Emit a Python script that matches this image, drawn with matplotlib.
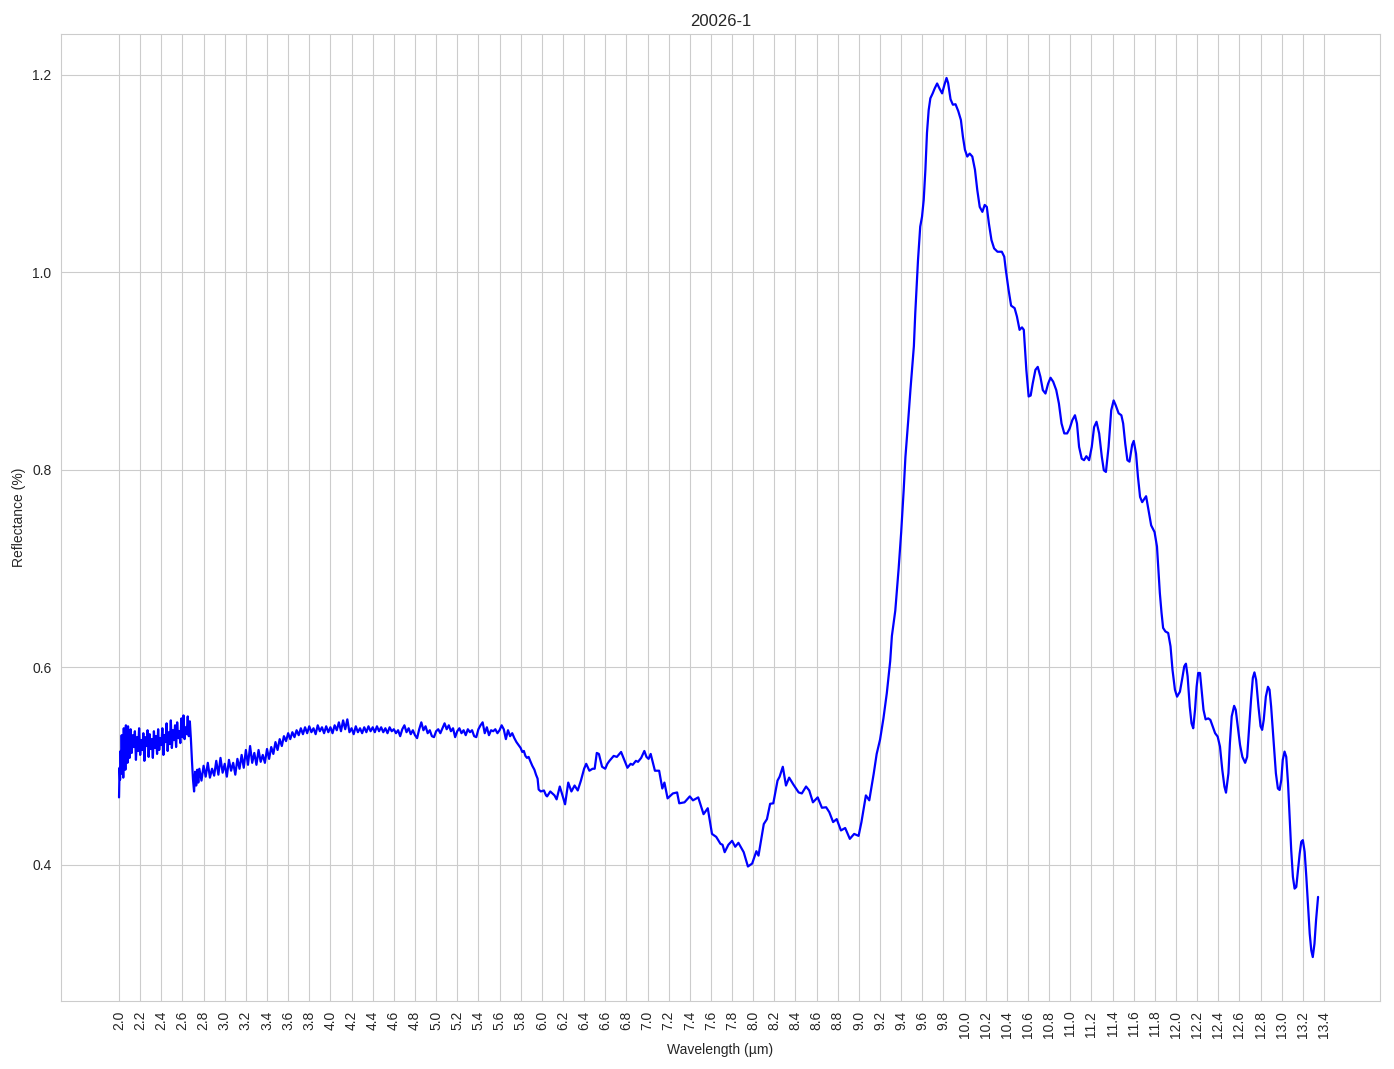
import matplotlib
matplotlib.use("Agg")
import matplotlib.pyplot as plt
import seaborn as sns
import numpy as np

# ---------------- data ----------------
wl_a = [2.000, 2.005, 2.010, 2.015, 2.020, 2.025, 2.030, 2.035, 2.040, 2.045,
        2.050, 2.055, 2.060, 2.065, 2.070, 2.075, 2.080, 2.085, 2.090, 2.095,
        2.10, 2.11, 2.12, 2.13, 2.14, 2.15, 2.16, 2.17, 2.18, 2.19,
        2.20, 2.21, 2.22, 2.23, 2.24, 2.25, 2.26, 2.27, 2.28, 2.29,
        2.30, 2.31, 2.32, 2.33, 2.34, 2.35, 2.36, 2.37, 2.38, 2.39,
        2.40, 2.41, 2.42, 2.43, 2.44, 2.45, 2.46, 2.47, 2.48, 2.49,
        2.50, 2.51, 2.52, 2.53, 2.54, 2.55, 2.56, 2.57, 2.58, 2.59,
        2.60, 2.61, 2.62, 2.63, 2.64, 2.65, 2.66, 2.67, 2.68, 2.69,
        2.70, 2.71, 2.72, 2.73, 2.74, 2.75]
refl_a = [0.468, 0.498, 0.486, 0.515, 0.492, 0.531, 0.499, 0.522, 0.488, 0.538,
          0.507, 0.529, 0.496, 0.541, 0.514, 0.534, 0.503, 0.540, 0.517, 0.527,
          0.508, 0.537, 0.513, 0.531, 0.519, 0.535, 0.506, 0.529, 0.515, 0.538,
          0.511, 0.526, 0.516, 0.533, 0.505, 0.529, 0.520, 0.536, 0.509, 0.532,
          0.517, 0.527, 0.508, 0.535, 0.518, 0.530, 0.512, 0.537, 0.516, 0.528,
          0.521, 0.538, 0.511, 0.531, 0.524, 0.543, 0.515, 0.534, 0.522, 0.546,
          0.518, 0.536, 0.526, 0.541, 0.519, 0.544, 0.528, 0.535, 0.523, 0.548,
          0.529, 0.551, 0.527, 0.539, 0.532, 0.550, 0.530, 0.545, 0.527, 0.505,
          0.486, 0.474, 0.494, 0.480, 0.496, 0.483]

wl_b = [2.76, 2.78, 2.80, 2.82, 2.84, 2.86, 2.88, 2.90, 2.92, 2.94,
        2.96, 2.98, 3.00, 3.02, 3.04, 3.06, 3.08, 3.10, 3.12, 3.14,
        3.16, 3.18, 3.20, 3.22, 3.24, 3.26, 3.28, 3.30, 3.32, 3.34,
        3.36, 3.38, 3.40, 3.42, 3.44, 3.46, 3.48, 3.50, 3.52, 3.54,
        3.56, 3.58, 3.60, 3.62]
refl_b = [0.497, 0.485, 0.500, 0.489, 0.503, 0.488, 0.497, 0.490, 0.505, 0.491,
          0.508, 0.493, 0.502, 0.489, 0.506, 0.495, 0.503, 0.491, 0.507, 0.497,
          0.511, 0.498, 0.516, 0.501, 0.520, 0.503, 0.513, 0.501, 0.516, 0.504,
          0.511, 0.503, 0.517, 0.507, 0.519, 0.512, 0.524, 0.516, 0.527, 0.520,
          0.530, 0.525, 0.533, 0.527]

wl_c = [3.64, 3.66, 3.68, 3.70, 3.72, 3.74, 3.76, 3.78, 3.80, 3.82,
        3.84, 3.86, 3.88, 3.90, 3.92, 3.94, 3.96, 3.98, 4.00, 4.02,
        4.04, 4.06, 4.08, 4.10, 4.12, 4.14, 4.16, 4.18, 4.20, 4.22,
        4.24, 4.26, 4.28, 4.30, 4.32, 4.34, 4.36, 4.38, 4.40, 4.42,
        4.44, 4.46, 4.48, 4.50, 4.52, 4.54, 4.56, 4.58, 4.60, 4.62,
        4.64, 4.66, 4.68, 4.70, 4.72, 4.74, 4.76, 4.78, 4.80, 4.82,
        4.84, 4.86, 4.88, 4.90, 4.92, 4.94, 4.96, 4.98, 5.00, 5.02,
        5.04, 5.06, 5.08, 5.10, 5.12, 5.14, 5.16, 5.18, 5.20, 5.22,
        5.24, 5.26, 5.28, 5.30, 5.32, 5.34, 5.36, 5.38, 5.40, 5.42,
        5.44, 5.46, 5.48, 5.50, 5.52, 5.54, 5.56, 5.58, 5.60, 5.62,
        5.64, 5.66, 5.68, 5.70, 5.72, 5.74, 5.76, 5.78]
refl_c = [0.534, 0.529, 0.536, 0.531, 0.538, 0.532, 0.539, 0.533, 0.540, 0.534,
          0.538, 0.532, 0.541, 0.535, 0.539, 0.533, 0.540, 0.534, 0.539, 0.533,
          0.541, 0.536, 0.544, 0.535, 0.546, 0.537, 0.547, 0.534, 0.538, 0.532,
          0.540, 0.534, 0.538, 0.533, 0.539, 0.534, 0.540, 0.535, 0.539, 0.534,
          0.540, 0.535, 0.539, 0.534, 0.538, 0.533, 0.539, 0.535, 0.537, 0.533,
          0.536, 0.530, 0.537, 0.541, 0.534, 0.538, 0.532, 0.536, 0.531, 0.528,
          0.537, 0.544, 0.536, 0.540, 0.533, 0.536, 0.530, 0.529, 0.535, 0.537,
          0.533, 0.538, 0.543, 0.537, 0.541, 0.535, 0.538, 0.529, 0.535, 0.538,
          0.533, 0.536, 0.531, 0.537, 0.534, 0.536, 0.530, 0.529, 0.537, 0.541,
          0.544, 0.533, 0.539, 0.531, 0.536, 0.535, 0.537, 0.533, 0.536, 0.541,
          0.537, 0.527, 0.536, 0.530, 0.533, 0.528, 0.524, 0.521]

wl_d = [5.80, 5.815, 5.83, 5.845, 5.86, 5.875, 5.89, 5.91, 5.93, 5.945,
        5.96, 5.97, 5.99, 6.02, 6.04, 6.05, 6.08, 6.10, 6.12, 6.14,
        6.17, 6.19, 6.22, 6.25, 6.28, 6.31, 6.34, 6.37, 6.40, 6.42,
        6.45, 6.48, 6.50, 6.52, 6.54, 6.57, 6.60, 6.62, 6.64, 6.68,
        6.71, 6.75, 6.78, 6.81, 6.84, 6.86, 6.89, 6.91, 6.94, 6.97,
        6.99, 7.01, 7.03, 7.07, 7.11, 7.14, 7.16, 7.19, 7.24, 7.28,
        7.30, 7.35, 7.40, 7.43, 7.48, 7.53, 7.57, 7.61, 7.65, 7.69,
        7.71, 7.73, 7.765, 7.80, 7.83, 7.86, 7.91, 7.95, 7.99, 8.03,
        8.05, 8.10, 8.13, 8.16, 8.19, 8.23, 8.25, 8.28, 8.31, 8.34,
        8.38, 8.43, 8.46, 8.50, 8.53, 8.565, 8.61, 8.65, 8.69, 8.72,
        8.756, 8.79, 8.83, 8.87, 8.914, 8.955, 8.997]
refl_d = [0.518, 0.514, 0.515, 0.510, 0.508, 0.509, 0.505, 0.500, 0.496, 0.491,
          0.487, 0.476, 0.474, 0.475, 0.470, 0.469, 0.474, 0.472, 0.470, 0.466,
          0.479, 0.472, 0.461, 0.483, 0.474, 0.480, 0.475, 0.485, 0.497, 0.502,
          0.495, 0.497, 0.497, 0.513, 0.512, 0.499, 0.497, 0.502, 0.505, 0.510,
          0.509, 0.514, 0.506, 0.498, 0.502, 0.501, 0.505, 0.504, 0.508, 0.515,
          0.509, 0.507, 0.512, 0.495, 0.495, 0.477, 0.483, 0.467, 0.472, 0.473,
          0.462, 0.463, 0.469, 0.465, 0.468, 0.451, 0.457, 0.431, 0.428, 0.421,
          0.420, 0.4125, 0.420, 0.424, 0.418, 0.422, 0.4125, 0.398, 0.401, 0.4135,
          0.409, 0.441, 0.446, 0.4615, 0.462, 0.485, 0.489, 0.499, 0.480, 0.488,
          0.481, 0.473, 0.472, 0.479, 0.475, 0.463, 0.468, 0.4575, 0.458, 0.453,
          0.443, 0.446, 0.4345, 0.437, 0.426, 0.431, 0.429]

wl_e = [9.024, 9.066, 9.098, 9.14, 9.168, 9.20, 9.232, 9.264, 9.296, 9.312,
        9.344, 9.376, 9.40, 9.424, 9.44, 9.466, 9.488, 9.52, 9.533, 9.559,
        9.58, 9.597, 9.613, 9.629, 9.644, 9.66, 9.676, 9.698, 9.717, 9.74,
        9.762, 9.787, 9.81, 9.829, 9.844, 9.867, 9.889, 9.914, 9.94, 9.965,
        9.984, 10.003, 10.025, 10.048, 10.073, 10.098, 10.12, 10.143, 10.168, 10.19,
        10.21, 10.23, 10.254, 10.279, 10.311, 10.352, 10.375, 10.39, 10.416, 10.44,
        10.473, 10.495, 10.52, 10.543, 10.56, 10.584, 10.606, 10.625, 10.644, 10.67,
        10.692, 10.717, 10.74, 10.765, 10.79, 10.813, 10.838, 10.867, 10.892, 10.917,
        10.943, 10.97, 10.994]
refl_e = [0.443, 0.470, 0.465, 0.492, 0.512, 0.5265, 0.548, 0.5736, 0.606, 0.6315,
          0.657, 0.700, 0.7366, 0.780, 0.8127, 0.849, 0.8815, 0.925, 0.958, 1.012,
          1.046, 1.056, 1.073, 1.1036, 1.141, 1.164, 1.176, 1.181, 1.186, 1.191,
          1.186, 1.181, 1.190, 1.1966, 1.1915, 1.175, 1.1695, 1.170, 1.163, 1.154,
          1.137, 1.124, 1.117, 1.120, 1.117, 1.1036, 1.083, 1.066, 1.061, 1.068,
          1.066, 1.049, 1.0325, 1.024, 1.0206, 1.0206, 1.0156, 1.002, 0.982, 0.966,
          0.9635, 0.955, 0.9415, 0.944, 0.9415, 0.901, 0.874, 0.875, 0.887, 0.901,
          0.904, 0.894, 0.8805, 0.877, 0.887, 0.893, 0.889, 0.8805, 0.867, 0.8467,
          0.8366, 0.8366, 0.8416]

wl_f = [11.019, 11.044, 11.063, 11.083, 11.108, 11.13, 11.152, 11.178, 11.203, 11.225,
        11.248, 11.273, 11.298, 11.317, 11.337, 11.362, 11.387, 11.41, 11.43, 11.457,
        11.483, 11.50, 11.52, 11.54, 11.56, 11.585, 11.60, 11.622, 11.64, 11.66,
        11.68, 11.698, 11.717, 11.74, 11.765, 11.797, 11.82, 11.847, 11.863, 11.878,
        11.90, 11.926, 11.948, 11.967, 11.99, 12.01, 12.037, 12.06, 12.078, 12.094,
        12.11, 12.13, 12.147, 12.163, 12.18, 12.195, 12.21, 12.227, 12.242, 12.26,
        12.28, 12.305, 12.325, 12.347, 12.37, 12.394, 12.416, 12.438, 12.458, 12.473,
        12.496, 12.51, 12.527, 12.55, 12.565, 12.584, 12.606, 12.628, 12.654, 12.673,
        12.69, 12.71, 12.727, 12.742, 12.758, 12.78, 12.80, 12.815, 12.83, 12.85,
        12.87, 12.885, 12.90, 12.923, 12.945, 12.964, 12.98, 12.996, 13.01, 13.027,
        13.043, 13.06, 13.075, 13.09, 13.106, 13.122, 13.138, 13.154, 13.17, 13.185,
        13.20, 13.217, 13.233, 13.25, 13.265, 13.28, 13.294, 13.31, 13.325, 13.344]
refl_f = [0.850, 0.855, 0.8467, 0.823, 0.811, 0.8095, 0.8135, 0.8095, 0.823, 0.843,
          0.8484, 0.8366, 0.813, 0.7993, 0.7976, 0.823, 0.860, 0.870, 0.865, 0.857,
          0.855, 0.8467, 0.826, 0.8095, 0.808, 0.825, 0.829, 0.816, 0.7926, 0.7723,
          0.767, 0.770, 0.773, 0.7587, 0.7435, 0.7367, 0.722, 0.675, 0.655, 0.6396,
          0.636, 0.6345, 0.621, 0.597, 0.577, 0.570, 0.575, 0.589, 0.6007, 0.6034,
          0.5905, 0.560, 0.543, 0.538, 0.5567, 0.580, 0.594, 0.594, 0.577, 0.5567,
          0.547, 0.548, 0.5465, 0.540, 0.533, 0.5296, 0.5195, 0.4958, 0.479, 0.4728,
          0.4924, 0.523, 0.550, 0.5607, 0.5567, 0.540, 0.521, 0.509, 0.503, 0.509,
          0.5364, 0.567, 0.589, 0.5946, 0.587, 0.560, 0.540, 0.5364, 0.5465, 0.570,
          0.580, 0.577, 0.560, 0.526, 0.4924, 0.477, 0.4755, 0.4856, 0.506, 0.5144,
          0.509, 0.482, 0.4484, 0.4145, 0.3875, 0.3756, 0.3773, 0.394, 0.411, 0.423,
          0.4247, 0.4129, 0.3875, 0.357, 0.330, 0.313, 0.3063, 0.3198, 0.3435, 0.3672]

xtick_labels = ["2.0", "2.2", "2.4", "2.6", "2.8", "3.0", "3.2", "3.4", "3.6", "3.8",
                "4.0", "4.2", "4.4", "4.6", "4.8", "5.0", "5.2", "5.4", "5.6", "5.8",
                "6.0", "6.2", "6.4", "6.6", "6.8", "7.0", "7.2", "7.4", "7.6", "7.8",
                "8.0", "8.2", "8.4", "8.6", "8.8", "9.0", "9.2", "9.4", "9.6", "9.8",
                "10.0", "10.2", "10.4", "10.6", "10.8", "11.0", "11.2", "11.4", "11.6", "11.8",
                "12.0", "12.2", "12.4", "12.6", "12.8", "13.0", "13.2", "13.4"]
ytick_values = [0.4, 0.6, 0.8, 1.0, 1.2]

title = "20026-1"
xlabel = "Wavelength (\u00b5m)"
ylabel = "Reflectance (%)"

# ---------------- plot ----------------
sns.set_style("whitegrid")
plt.rcParams["font.family"] = ["Liberation Sans", "DejaVu Sans"]

wavelength = np.array(wl_a + wl_b + wl_c + wl_d + wl_e + wl_f)
reflectance = np.array(refl_a + refl_b + refl_c + refl_d + refl_e + refl_f)

fig = plt.figure(figsize=(13.94, 10.69), dpi=100)
ax = fig.add_axes([61 / 1394, 68 / 1069, 1319 / 1394, 967 / 1069])

ax.plot(wavelength, reflectance, color="blue", linewidth=1.6)

ax.set_xticks([float(t) for t in xtick_labels])
ax.set_xticklabels(xtick_labels, rotation=90)
ax.set_xlim(1.451, 13.93)
ax.set_yticks(ytick_values)
ax.set_yticklabels([f"{v:.1f}" for v in ytick_values])

ax.set_title(title, fontsize=12)
ax.set_xlabel(xlabel, fontsize=10)
ax.set_ylabel(ylabel, fontsize=10)
ax.tick_params(labelsize=10)

fig.savefig("out.png", dpi=100)
